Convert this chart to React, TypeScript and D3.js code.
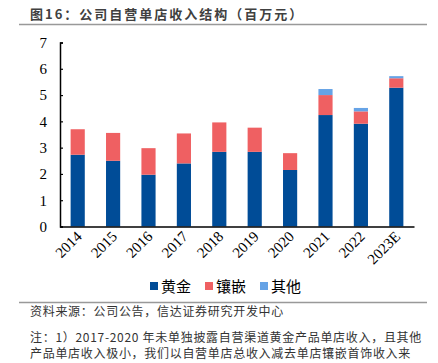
import { useEffect, useRef } from "react";
import * as d3 from "d3";

const years = ["2014", "2015", "2016", "2017", "2018", "2019", "2020", "2021", "2022", "2023E"];
const gold = [2.73, 2.5, 1.97, 2.4, 2.84, 2.84, 2.15, 4.24, 3.91, 5.28];
const inlay = [0.97, 1.06, 1.01, 1.14, 1.12, 0.92, 0.64, 0.76, 0.47, 0.36];
const other = [0, 0, 0, 0, 0, 0, 0, 0.23, 0.13, 0.08];
const seriesNames = ["黄金", "镶嵌", "其他"];
const colors = ["#004C97", "#EF6062", "#66A3E6"];
const yTicks = [0, 1, 2, 3, 4, 5, 6, 7];

const W = 438;
const H = 363;
const cjk = "'Noto Sans CJK SC', sans-serif";
const serif = "'Liberation Serif', 'DejaVu Serif', serif";

export default function App() {
  const ref = useRef<SVGSVGElement>(null);

  useEffect(() => {
    const svg = d3.select(ref.current);
    svg.selectAll("*").remove();

    const x = d3.scaleBand().domain(years).range([60, 414]).paddingInner(0.6).paddingOuter(0.3);
    const y = d3.scaleLinear().domain([0, 7]).range([226.5, 42.5]);

    const rows = years.map((yr, i) => ({ year: yr, gold: gold[i], inlay: inlay[i], other: other[i] }));
    const stacked = d3.stack<any>().keys(["gold", "inlay", "other"])(rows);

    // title
    svg.append("text")
      .attr("x", 30).attr("y", 19)
      .attr("font-family", cjk).attr("font-weight", "bold")
      .attr("font-size", 13).attr("fill", "#404040")
      .attr("letter-spacing", 2)
      .text("图16：公司自营单店收入结构（百万元）");
    svg.append("line")
      .attr("x1", 19).attr("x2", 427).attr("y1", 24.5).attr("y2", 24.5)
      .attr("stroke", "#999").attr("stroke-width", 1.5);

    // bars
    stacked.forEach((s, k) => {
      svg.append("g").selectAll("rect")
        .data(s)
        .join("rect")
        .attr("x", (d: any) => x(d.data.year)!)
        .attr("width", x.bandwidth())
        .attr("y", (d) => y(d[1]))
        .attr("height", (d) => Math.max(0, y(d[0]) - y(d[1])))
        .attr("fill", colors[k]);
    });

    // y axis
    const yAxis = d3.axisRight(y).tickValues(yTicks).tickSize(3).tickFormat(d3.format("d"));
    const gy = svg.append("g").attr("transform", "translate(60,0)").call(yAxis);
    gy.select(".domain").attr("stroke", "#000").attr("stroke-width", 1.5);
    gy.selectAll(".tick line").attr("stroke", "#000").attr("stroke-width", 1.2);
    gy.selectAll(".tick text")
      .attr("x", -13).attr("text-anchor", "end")
      .attr("font-family", serif).attr("font-size", 15).attr("fill", "#000");

    // x axis
    const xAxis = d3.axisBottom(x).tickSize(0);
    const gx = svg.append("g").attr("transform", `translate(0,${y(0)})`).call(xAxis);
    gx.select(".domain").attr("stroke", "#000").attr("stroke-width", 1.5);
    gx.selectAll(".tick text")
      .attr("font-family", serif).attr("font-size", 15).attr("fill", "#000")
      .attr("text-anchor", "end").attr("dy", 0).attr("y", 0)
      .attr("transform", "translate(5,11) rotate(-45)");

    // legend
    const legendX = [150, 205, 260];
    seriesNames.forEach((name, i) => {
      svg.append("rect")
        .attr("x", legendX[i]).attr("y", 282).attr("width", 8).attr("height", 8)
        .attr("fill", colors[i]);
      svg.append("text")
        .attr("x", legendX[i] + 11).attr("y", 291.5)
        .attr("font-family", cjk).attr("font-size", 15).attr("fill", "#000")
        .text(name);
    });

    svg.append("line")
      .attr("x1", 19).attr("x2", 427).attr("y1", 302.5).attr("y2", 302.5)
      .attr("stroke", "#999").attr("stroke-width", 1.5);

    const notes = [
      { y: 316, t: "资料来源：公司公告，信达证券研究开发中心" },
      { y: 342, t: "注：1）2017-2020 年未单独披露自营渠道黄金产品单店收入，且其他" },
      { y: 358, t: "产品单店收入极小，我们以自营单店总收入减去单店镶嵌首饰收入来" },
    ];
    notes.forEach((n) => {
      svg.append("text")
        .attr("x", 30).attr("y", n.y)
        .attr("font-family", cjk).attr("font-size", 12).attr("fill", "#333")
        .attr("letter-spacing", 0.7)
        .text(n.t);
    });
  }, []);

  return (
    <svg
      ref={ref}
      width={W}
      height={H}
      style={{ position: "absolute", left: 0, top: 0, background: "#fff" }}
    />
  );
}
